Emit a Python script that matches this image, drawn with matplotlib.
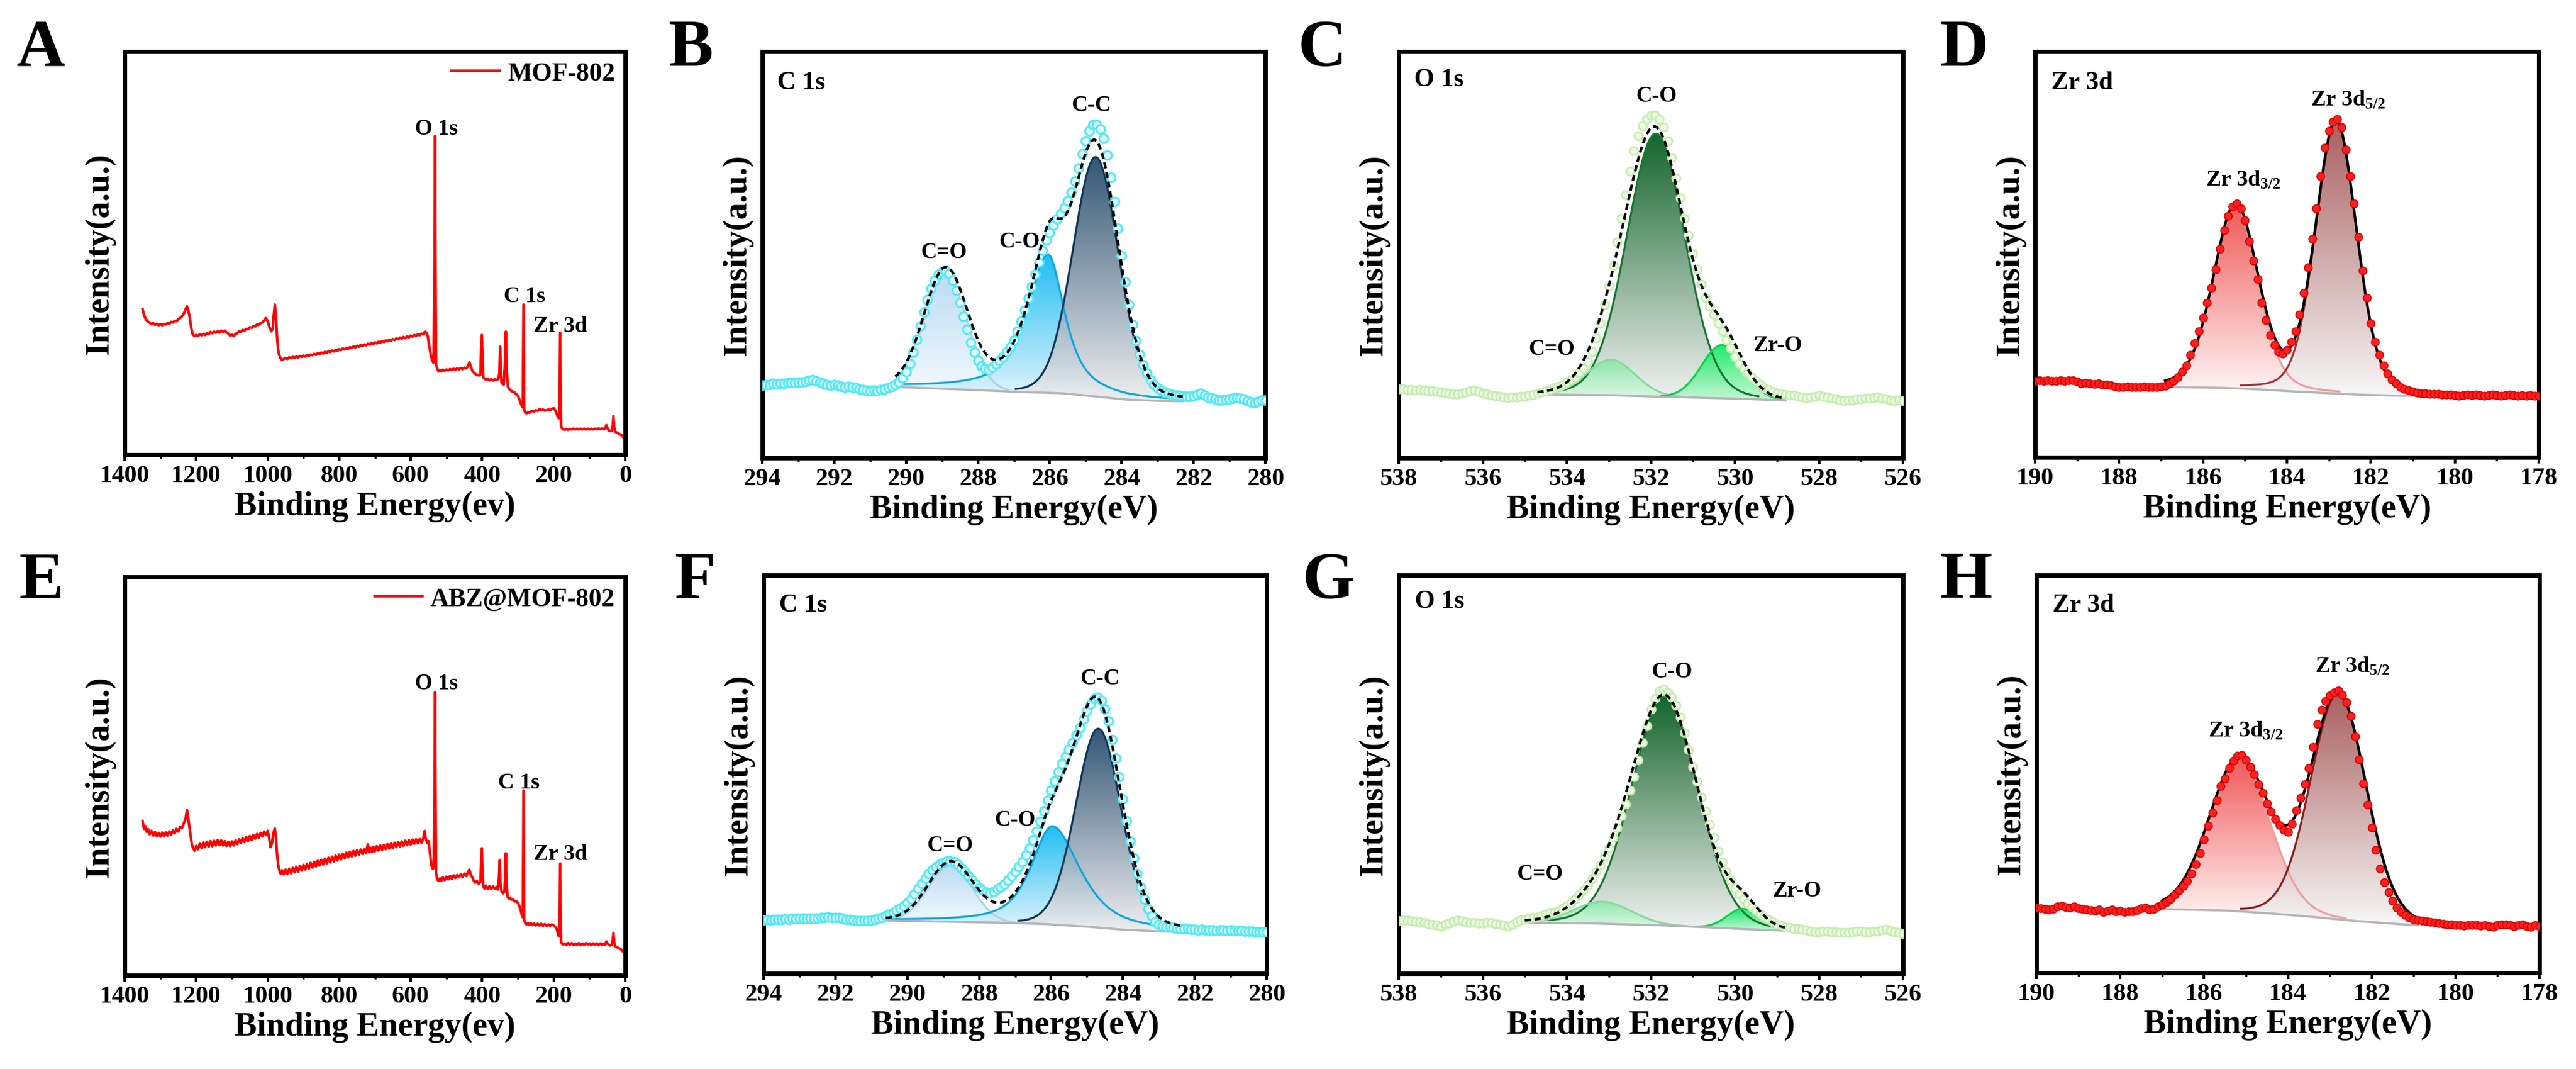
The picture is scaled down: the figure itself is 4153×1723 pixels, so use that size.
import numpy as np
import matplotlib
matplotlib.use('Agg')
import matplotlib.pyplot as plt
from matplotlib.patches import Polygon
from matplotlib.colors import LinearSegmentedColormap
from matplotlib.ticker import MultipleLocator

plt.rcParams['font.family'] = ['Liberation Serif', 'DejaVu Serif']
plt.rcParams['font.weight'] = 'bold'
plt.rcParams['axes.labelweight'] = 'bold'
plt.rcParams['mathtext.fontset'] = 'custom'
plt.rcParams['mathtext.rm'] = 'Liberation Serif:bold'
plt.rcParams['mathtext.it'] = 'Liberation Serif:bold'
plt.rcParams['mathtext.bf'] = 'Liberation Serif:bold'
plt.rcParams['mathtext.default'] = 'bf'

# ---------------------------------------------------------------- survey data
mof_survey = [
    (1350, 42.0), (1346, 40.2), (1342, 39.2), (1338, 38.6), (1334, 38.2), (1330, 37.9), (1325, 37.5),
    (1320, 37.8), (1315, 37.3), (1310, 37.6), (1305, 37.2), (1300, 37.5), (1295, 37.2), (1290, 37.6),
    (1285, 37.4), (1280, 37.8), (1275, 37.6), (1270, 38.2), (1265, 38.0), (1260, 38.5), (1255, 38.4),
    (1250, 39.0), (1245, 39.3), (1240, 39.8), (1235, 40.5), (1230, 41.8), (1226, 42.8), (1222, 41.5),
    (1218, 39.5), (1214, 36.5), (1210, 34.5), (1205, 34.0), (1200, 34.3), (1195, 34.0), (1190, 34.5),
    (1185, 34.2), (1180, 34.6), (1175, 34.3), (1170, 34.8), (1165, 34.5), (1160, 35.2), (1155, 34.8),
    (1150, 35.3), (1145, 35.0), (1140, 35.4), (1135, 35.0), (1130, 35.6), (1125, 35.2), (1120, 35.6),
    (1115, 35.1), (1110, 34.7), (1105, 34.1), (1100, 34.4), (1095, 34.0), (1090, 34.6), (1085, 34.8),
    (1080, 35.4), (1075, 35.2), (1070, 35.8), (1065, 35.6), (1060, 36.1), (1055, 36.0), (1050, 36.6),
    (1045, 36.4), (1040, 37.0), (1035, 36.8), (1030, 37.4), (1025, 37.3), (1020, 37.8), (1015, 38.0),
    (1010, 38.6), (1005, 39.3), (1000, 38.4), (995, 36.6), (990, 35.4), (986, 36.2), (983, 40.2),
    (980, 43.3), (977, 40.0), (974, 34.0), (971, 30.0), (968, 28.4), (964, 27.4), (960, 26.9),
    (955, 27.2), (950, 27.5), (945, 27.2), (940, 27.7), (935, 27.4), (930, 27.8), (925, 27.5),
    (920, 27.9), (915, 27.6), (910, 28.1), (905, 27.8), (900, 28.2), (895, 27.9), (890, 28.4),
    (885, 28.1), (880, 28.5), (875, 28.3), (870, 28.7), (865, 28.4), (860, 28.9), (855, 28.6),
    (850, 29.1), (845, 28.8), (840, 29.3), (835, 29.0), (830, 29.5), (825, 29.2), (820, 29.7),
    (815, 29.4), (810, 29.9), (805, 29.6), (800, 30.1), (795, 29.8), (790, 30.3), (785, 30.0),
    (780, 30.5), (775, 30.2), (770, 30.7), (765, 30.4), (760, 30.9), (755, 30.6), (750, 31.1),
    (745, 30.8), (740, 31.3), (735, 31.0), (730, 31.5), (725, 31.2), (720, 31.7), (715, 31.4),
    (710, 31.9), (705, 31.6), (700, 32.1), (695, 31.8), (690, 32.3), (685, 32.0), (680, 32.5),
    (675, 32.2), (670, 32.7), (665, 32.4), (660, 32.9), (655, 32.6), (650, 33.1), (645, 32.8),
    (640, 33.3), (635, 33.0), (630, 33.5), (625, 33.2), (620, 33.7), (615, 33.4), (610, 33.9),
    (605, 33.6), (600, 34.1), (595, 33.8), (590, 34.3), (585, 34.0), (580, 34.5), (575, 34.2),
    (570, 34.7), (565, 34.5), (560, 35.3), (556, 35.0), (552, 33.8), (548, 31.0), (544, 28.5),
    (540, 26.8), (536, 26.0), (533.5, 55.0), (532, 93.3), (530.5, 55.0), (529, 25.5), (526, 24.5),
    (522, 23.5), (518, 23.8), (514, 23.5), (510, 24.0), (505, 23.7), (500, 24.1), (495, 23.8),
    (490, 24.2), (485, 23.9), (480, 24.3), (475, 24.0), (470, 24.4), (465, 24.1), (460, 24.5),
    (455, 24.2), (450, 24.6), (445, 24.4), (440, 25.0), (436, 26.2), (432, 25.0), (428, 23.8),
    (424, 23.2), (420, 22.8), (415, 22.5), (410, 22.3), (405, 22.5), (403, 30.0), (401, 34.3),
    (399, 28.0), (397, 21.8), (394, 21.4), (390, 21.1), (385, 21.3), (380, 20.9), (375, 21.2),
    (370, 20.8), (365, 21.2), (360, 21.0), (355, 21.2), (352, 23.0), (350, 30.8), (348, 24.0),
    (346, 20.2), (343, 19.8), (340, 19.6), (337, 25.0), (334, 35.3), (331, 23.0), (328, 18.8),
    (324, 18.2), (320, 17.8), (315, 17.5), (310, 17.3), (305, 16.8), (300, 16.3), (296, 15.2),
    (292, 14.0), (289, 13.2), (286.5, 12.8), (285.5, 30.0), (284.5, 43.3), (283.5, 28.0),
    (282.5, 12.3), (280, 11.3), (276, 11.1), (272, 11.4), (268, 11.2), (264, 11.6), (260, 11.8),
    (255, 11.6), (250, 12.0), (245, 11.8), (240, 12.3), (235, 12.0), (230, 12.2), (225, 11.9),
    (220, 12.0), (215, 12.2), (210, 12.0), (205, 12.4), (200, 12.6), (196, 12.0), (192, 11.0),
    (189, 10.2), (186, 9.6), (184, 12.0), (183, 25.0), (182, 35.0), (181, 20.0), (179.5, 7.5),
    (178, 6.8), (175, 6.4), (170, 6.2), (165, 6.4), (160, 6.2), (155, 6.4), (150, 6.3), (145, 6.5),
    (140, 6.3), (135, 6.5), (130, 6.3), (125, 6.5), (120, 6.3), (115, 6.5), (110, 6.3), (105, 6.5),
    (100, 6.3), (95, 6.5), (90, 6.3), (85, 6.5), (80, 6.4), (75, 6.6), (70, 6.4), (65, 6.6),
    (60, 6.4), (56, 6.6), (53, 7.6), (50, 6.8), (46, 6.0), (42, 5.8), (38, 5.9), (35, 7.6),
    (33, 10.3), (31, 7.2), (29, 5.8), (26, 5.5), (22, 5.3), (18, 5.1), (14, 4.8), (10, 4.6),
    (6, 4.0), (3, 3.8), (1, 3.6),
]

abz_survey = [
    (1350, 45.5), (1346, 43.2), (1342, 44.0), (1338, 42.3), (1334, 43.1), (1330, 41.6), (1325, 42.6),
    (1320, 41.2), (1315, 42.3), (1310, 41.0), (1305, 42.0), (1300, 40.9), (1295, 42.1), (1290, 41.0),
    (1285, 42.2), (1280, 41.2), (1275, 42.5), (1270, 41.5), (1265, 42.8), (1260, 41.9), (1255, 43.2),
    (1250, 42.4), (1245, 43.8), (1240, 43.4), (1235, 44.8), (1230, 46.0), (1226, 48.8), (1223, 47.0),
    (1220, 44.5), (1216, 41.5), (1212, 38.5), (1208, 37.4), (1204, 36.8), (1200, 38.2), (1195, 37.2),
    (1190, 38.8), (1185, 37.6), (1180, 39.2), (1175, 37.8), (1170, 39.4), (1165, 38.0), (1160, 39.6),
    (1155, 38.1), (1150, 39.7), (1145, 38.3), (1140, 39.9), (1135, 38.4), (1130, 39.8), (1125, 38.3),
    (1120, 39.6), (1115, 38.2), (1110, 39.4), (1105, 38.1), (1100, 39.5), (1095, 38.3), (1090, 39.8),
    (1085, 38.7), (1080, 40.1), (1075, 39.0), (1070, 40.5), (1065, 39.3), (1060, 40.8), (1055, 39.6),
    (1050, 41.1), (1045, 39.9), (1040, 41.4), (1035, 40.3), (1030, 41.7), (1025, 40.6), (1020, 42.0),
    (1015, 41.0), (1010, 42.4), (1005, 41.4), (1000, 42.6), (996, 40.5), (992, 37.8), (988, 39.0),
    (984, 42.0), (980, 43.3), (977, 40.5), (974, 36.0), (971, 32.8), (968, 31.2), (964, 30.0),
    (960, 31.0), (955, 29.8), (950, 31.2), (945, 29.9), (940, 31.4), (935, 30.1), (930, 31.7),
    (925, 30.4), (920, 32.0), (915, 30.6), (910, 32.3), (905, 30.9), (900, 32.6), (895, 31.2),
    (890, 32.9), (885, 31.5), (880, 33.2), (875, 31.8), (870, 33.5), (865, 32.1), (860, 33.8),
    (855, 32.4), (850, 34.1), (845, 32.7), (840, 34.4), (835, 33.0), (830, 34.7), (825, 33.3),
    (820, 35.0), (815, 33.6), (810, 35.3), (805, 33.9), (800, 35.6), (795, 34.2), (790, 35.9),
    (785, 34.5), (780, 36.2), (775, 34.8), (770, 36.5), (765, 35.1), (760, 36.7), (755, 35.3),
    (750, 36.9), (745, 35.6), (740, 37.1), (735, 35.8), (730, 37.3), (725, 36.0), (720, 38.6),
    (716, 36.3), (712, 37.6), (708, 36.4), (704, 37.9), (700, 36.6), (695, 38.1), (690, 36.8),
    (685, 38.3), (680, 37.0), (675, 38.5), (670, 37.2), (665, 38.7), (660, 37.4), (655, 38.9),
    (650, 37.6), (645, 39.1), (640, 37.8), (635, 39.3), (630, 38.0), (625, 39.5), (620, 38.2),
    (615, 39.7), (610, 38.4), (605, 39.9), (600, 38.6), (595, 40.0), (590, 38.8), (585, 40.1),
    (580, 38.9), (575, 40.2), (570, 39.1), (565, 40.3), (561, 42.6), (558, 40.4), (554, 39.0),
    (550, 39.6), (546, 36.0), (542, 32.4), (538, 31.4), (535.5, 31.8), (533.5, 55.0), (532, 83.5),
    (530.5, 55.0), (529, 30.2), (526, 28.4), (522, 27.8), (518, 28.6), (514, 27.9), (510, 28.9),
    (505, 28.1), (500, 29.1), (495, 28.3), (490, 29.3), (485, 28.5), (480, 29.5), (475, 28.7),
    (470, 29.6), (465, 28.9), (460, 29.8), (455, 29.0), (450, 30.0), (445, 29.3), (440, 30.4),
    (436, 31.2), (432, 29.6), (428, 29.0), (424, 28.0), (420, 27.3), (415, 27.9), (410, 27.0),
    (405, 27.6), (403, 33.0), (401, 37.5), (399, 30.0), (397, 26.4), (394, 25.6), (390, 26.5),
    (385, 25.5), (380, 26.3), (375, 25.4), (370, 26.3), (365, 25.5), (360, 26.1), (356, 25.3),
    (353, 29.0), (351, 34.0), (349, 27.0), (346, 24.8), (342, 24.2), (338, 24.6), (336, 29.0),
    (334, 36.0), (332, 27.0), (329, 23.2), (326, 22.6), (322, 22.9), (318, 22.3), (314, 22.5),
    (310, 21.8), (305, 21.9), (300, 21.4), (296, 20.4), (292, 19.0), (289, 17.8), (286.5, 17.1),
    (285.5, 35.0), (284.5, 54.5), (283.5, 33.0), (282.5, 16.4), (280, 15.5), (276, 15.0),
    (272, 15.4), (268, 14.9), (264, 15.4), (260, 14.8), (255, 15.3), (250, 14.7), (245, 15.2),
    (240, 14.7), (235, 15.2), (230, 14.6), (225, 15.1), (220, 14.6), (215, 15.0), (210, 14.6),
    (205, 15.0), (200, 14.7), (196, 14.3), (192, 13.8), (189, 12.6), (186, 11.5), (184, 13.0),
    (183, 24.0), (182, 33.0), (181, 18.0), (179.5, 10.0), (178, 9.5), (175, 9.1), (170, 9.4),
    (165, 8.9), (160, 9.5), (155, 9.0), (150, 9.5), (145, 8.9), (140, 9.4), (135, 9.0), (130, 9.5),
    (125, 8.9), (120, 9.4), (115, 9.0), (110, 9.5), (105, 9.1), (100, 9.4), (95, 8.9), (90, 9.4),
    (85, 9.0), (80, 9.4), (75, 8.9), (70, 9.4), (65, 9.0), (60, 9.3), (56, 9.0), (53, 10.0),
    (50, 9.4), (46, 9.1), (42, 8.8), (38, 9.0), (35, 10.6), (33, 12.5), (31, 10.0), (29, 8.6),
    (26, 8.5), (22, 8.2), (18, 8.0), (14, 7.8), (10, 7.5), (6, 7.0), (3, 6.8), (1, 6.7),
]

# ---------------------------------------------------------------- high resolution spectra (0.1 eV steps)
c1s_mof_E = np.round(np.arange(294.0, 279.95, -0.1), 1)
c1s_mof_I = [
    21.5, 21.8, 21.7, 22.0, 21.9, 22.1, 22.0, 22.2, 22.3, 22.2,
    22.4, 22.5, 22.7, 23.0, 23.2, 22.8, 22.4, 22.0, 21.8, 21.5,
    21.8, 21.6, 21.2, 21.0, 21.2, 21.0, 20.7, 20.5, 20.2, 20.0,
    19.8, 20.0, 19.9, 20.2, 20.4, 20.8, 21.2, 21.8, 22.5, 23.8,
    25.5, 28.0, 31.2, 35.2, 39.2, 43.2, 47.0, 50.2, 52.7, 54.4,
    55.2, 55.5, 54.6, 52.7, 49.7, 46.0, 42.0, 38.0, 34.2, 31.2,
    28.8, 27.2, 26.4, 26.2, 26.8, 27.8, 28.8, 30.0, 31.4, 33.0,
    35.0, 37.5, 40.5, 43.8, 47.2, 50.8, 54.5, 58.0, 61.5, 64.5,
    66.8, 69.0, 70.8, 72.4, 74.2, 76.2, 78.8, 82.0, 86.0, 90.2,
    94.0, 97.0, 98.7, 98.8, 97.5, 94.8, 89.8, 83.2, 76.0, 68.0,
    60.0, 52.2, 45.5, 39.5, 34.8, 30.8, 27.6, 25.2, 23.2, 21.7,
    20.7, 20.0, 19.4, 19.1, 18.8, 18.6, 18.5, 18.4, 18.3, 18.2,
    18.4, 18.8, 19.2, 18.5, 18.0, 17.8, 17.5, 17.2, 17.1, 17.3,
    17.5, 17.7, 17.8, 17.6, 17.4, 17.0, 16.5, 16.4, 16.8, 17.1,
    17.2]

c1s_abz_E = np.round(np.arange(294.0, 279.95, -0.1), 1)
c1s_abz_I = [
    15.8, 15.9, 15.8, 16.0, 15.9, 16.0, 16.1, 16.0, 16.2, 16.1,
    16.2, 16.3, 16.2, 16.3, 16.2, 16.2, 16.4, 16.5, 16.6, 16.5,
    16.5, 16.4, 16.2, 16.0, 15.9, 15.8, 15.6, 15.5, 15.5, 15.6,
    15.8, 16.0, 16.2, 16.5, 17.0, 17.5, 18.0, 18.6, 19.2, 20.0,
    20.8, 22.0, 23.5, 25.0, 26.5, 28.0, 29.5, 30.5, 31.5, 32.2,
    32.8, 33.2, 33.2, 32.9, 32.2, 31.2, 30.0, 28.8, 27.5, 26.3,
    25.2, 24.5, 24.0, 23.8, 24.2, 24.8, 25.5, 26.4, 27.5, 28.7,
    30.0, 31.4, 33.0, 34.9, 37.0, 39.4, 42.0, 44.9, 48.0, 51.0,
    54.0, 56.8, 59.5, 61.8, 64.0, 66.0, 68.0, 70.2, 72.5, 75.0,
    77.5, 79.5, 81.0, 81.5, 80.5, 78.0, 74.5, 69.0, 63.5, 58.0,
    51.5, 45.0, 39.0, 34.0, 29.5, 25.5, 22.0, 19.0, 17.0, 15.2,
    14.5, 14.1, 13.8, 13.7, 13.5, 13.4, 13.2, 13.2, 13.1, 13.0,
    13.0, 12.9, 13.0, 12.9, 12.8, 12.8, 12.7, 12.8, 12.8, 12.7,
    12.8, 12.7, 12.6, 12.6, 12.5, 12.5, 12.4, 12.3, 12.3, 12.2,
    12.2]

o1s_mof_E = np.round(np.arange(538.0, 525.95, -0.1), 1)
o1s_mof_I = [
    20.5, 20.4, 20.2, 20.3, 20.1, 20.2, 20.0, 19.8, 19.9, 19.6,
    19.5, 19.4, 19.2, 19.0, 19.0, 19.2, 19.5, 19.8, 20.0, 19.6,
    19.2, 18.9, 18.6, 18.4, 18.2, 18.0, 17.9, 18.0, 18.1, 18.2,
    18.3, 18.5, 18.8, 19.2, 19.5, 19.8, 20.2, 20.7, 21.2, 21.8,
    22.5, 23.2, 24.0, 25.2, 26.5, 28.5, 31.5, 35.5, 40.0, 45.5,
    51.0, 57.0, 64.0, 71.0, 78.0, 85.0, 91.0, 95.5, 98.5, 100.5,
    101.5, 101.5, 100.5, 98.0, 94.0, 89.0, 83.0, 77.0, 71.0, 66.0,
    60.5, 56.0, 51.5, 47.5, 45.0, 42.5, 40.0, 37.5, 35.0, 32.5,
    30.0, 28.0, 26.5, 25.2, 24.0, 22.8, 21.8, 20.8, 20.2, 19.6,
    19.2, 19.0, 18.8, 18.6, 18.5, 18.2, 18.0, 17.9, 18.0, 18.3,
    18.5, 18.3, 18.0, 17.7, 17.5, 17.2, 17.0, 17.1, 17.2, 17.4,
    17.5, 17.6, 17.7, 17.9, 18.0, 17.7, 17.5, 17.2, 17.0, 17.1,
    17.0]

o1s_abz_E = np.round(np.arange(538.0, 525.95, -0.1), 1)
o1s_abz_I = [
    15.5, 15.7, 15.8, 15.5, 15.3, 15.2, 15.0, 14.7, 14.5, 14.2,
    14.0, 14.4, 14.8, 15.4, 15.8, 15.5, 15.2, 15.0, 15.0, 14.8,
    14.8, 15.0, 15.0, 14.7, 14.5, 14.2, 14.0, 14.5, 15.2, 15.7,
    16.0, 16.2, 16.5, 16.7, 17.0, 17.5, 18.0, 18.2, 18.5, 19.2,
    20.0, 20.9, 22.0, 23.2, 24.5, 26.2, 28.0, 30.0, 32.0, 34.5,
    37.0, 40.0, 43.0, 46.5, 50.0, 54.0, 58.0, 63.0, 68.0, 73.0,
    78.0, 81.0, 83.2, 83.8, 83.0, 81.5, 79.0, 75.5, 71.0, 66.0,
    61.0, 56.5, 52.0, 48.0, 44.0, 40.0, 36.0, 32.8, 30.0, 27.4,
    25.0, 23.4, 22.0, 20.7, 19.5, 18.5, 17.5, 16.7, 16.0, 15.2,
    14.5, 14.2, 13.8, 13.5, 13.2, 13.1, 13.0, 12.8, 12.5, 12.3,
    12.2, 12.4, 12.5, 12.3, 12.2, 12.0, 12.0, 12.1, 12.2, 12.4,
    12.5, 12.3, 12.2, 12.4, 12.5, 12.8, 13.0, 12.6, 12.2, 12.0,
    11.8]

zr3d_mof_E = np.round(np.arange(190.0, 177.95, -0.1), 1)
zr3d_mof_I = [
    22.6, 22.8, 22.7, 22.8, 22.6, 22.7, 22.8, 22.7, 22.9, 22.8,
    22.5, 21.9, 22.0, 21.8, 21.7, 21.8, 21.6, 21.5, 21.3, 21.0,
    20.8, 20.7, 20.9, 20.8, 20.7, 20.8, 20.9, 20.8, 20.7, 20.8,
    20.9, 21.2, 21.8, 22.6, 23.8, 25.3, 27.3, 30.3, 33.8, 37.3,
    41.3, 45.8, 50.3, 55.8, 61.8, 67.3, 71.6, 74.3, 75.3, 73.8,
    70.3, 64.0, 58.3, 52.8, 45.8, 40.6, 36.3, 33.3, 31.3, 30.8,
    31.8, 34.3, 37.3, 42.3, 48.8, 56.3, 64.8, 73.8, 83.3, 91.8,
    96.8, 99.6, 100.3, 97.8, 91.3, 83.3, 75.3, 65.3, 55.3, 47.3,
    39.8, 34.3, 30.3, 27.3, 24.8, 23.0, 21.8, 20.8, 20.3, 19.8,
    19.5, 19.2, 19.0, 18.9, 18.8, 18.7, 18.8, 18.6, 18.5, 18.6,
    18.4, 18.3, 18.4, 18.5, 18.4, 18.5, 18.4, 18.3, 18.4, 18.5,
    18.4, 18.3, 18.4, 18.5, 18.4, 18.3, 18.4, 18.3, 18.4, 18.3,
    18.3]

zr3d_abz_E = np.round(np.arange(190.0, 177.95, -0.1), 1)
zr3d_abz_I = [
    19.3, 19.0, 18.8, 18.6, 18.8, 19.6, 19.8, 19.4, 19.3, 19.5,
    19.0, 18.8, 18.6, 18.4, 18.3, 18.6, 18.0, 18.3, 18.6, 18.2,
    18.3, 18.0, 18.1, 18.2, 18.4, 19.0, 19.3, 18.6, 18.8, 19.6,
    20.2, 20.8, 21.8, 23.0, 24.3, 25.6, 27.0, 29.3, 32.0, 35.3,
    39.3, 43.3, 47.3, 50.8, 55.0, 57.3, 60.3, 62.6, 64.0, 64.3,
    62.8, 60.8, 58.6, 55.6, 53.0, 50.0, 47.6, 45.3, 43.6, 42.0,
    41.6, 44.0, 48.0, 51.6, 55.6, 60.3, 66.6, 73.3, 77.6, 80.2,
    81.8, 82.8, 83.3, 82.0, 79.8, 75.8, 69.8, 63.0, 55.8, 49.6,
    42.8, 36.3, 30.8, 26.8, 23.8, 21.3, 19.3, 18.0, 17.0, 16.3,
    15.8, 15.6, 15.3, 15.2, 15.0, 14.8, 14.6, 14.4, 14.3, 14.2,
    14.0, 14.1, 13.9, 14.0, 14.1, 14.0, 13.9, 14.0, 13.8, 13.6,
    14.0, 14.3, 14.2, 14.0, 13.8, 14.1, 14.3, 13.8, 13.6, 14.0,
    13.8]

# ---------------------------------------------------------------- fitted components
# (center eV, height, HWHM high-energy side, HWHM low-energy side, Lorentz fraction)
c1s_mof_peaks = [(288.9, 34.0, 0.70, 0.70, 0.0), (286.05, 41.0, 0.70, 0.55, 0.8), (284.72, 71.0, 0.75, 0.75, 0.1)]
c1s_abz_peaks = [(288.8, 16.5, 0.72, 0.72, 0.0), (285.96, 29.0, 0.70, 0.90, 0.7), (284.68, 58.7, 0.75, 0.75, 0.1)]
o1s_mof_peaks = [(531.88, 78.0, 0.82, 0.82, 0.1), (532.95, 10.5, 0.68, 0.68, 0.0), (530.3, 15.8, 0.58, 0.58, 0.0)]
o1s_abz_peaks = [(531.67, 67.5, 0.93, 0.93, 0.1), (533.15, 6.5, 0.80, 0.80, 0.0), (529.8, 6.0, 0.45, 0.45, 0.0)]
zr3d_mof_peaks = [(185.22, 54.0, 0.625, 0.625, 0.2), (182.83, 80.5, 0.575, 0.575, 0.2)]
zr3d_abz_peaks = [(185.15, 45.0, 0.85, 0.85, 0.1), (182.8, 66.5, 0.78, 0.78, 0.1)]

# background nodes (eV, intensity) spanning the fit windows
c1s_mof_bg = [(290.3, 21.0), (288.5, 20.3), (286.8, 19.5), (285.7, 19.2), (284.8, 18.3), (283.9, 17.3), (283.0, 16.9), (282.3, 16.8)]
c1s_abz_bg = [(290.6, 15.6), (289.0, 15.3), (287.5, 15.0), (286.2, 14.6), (285.0, 13.8), (284.0, 12.9), (283.0, 12.4), (282.3, 12.2)]
o1s_mof_bg = [(534.7, 18.8), (533.0, 18.6), (532.0, 18.2), (531.0, 17.9), (530.0, 17.6), (528.8, 17.0)]
o1s_abz_bg = [(535.0, 15.0), (533.5, 14.8), (532.0, 14.3), (531.0, 13.8), (530.0, 13.2), (528.8, 12.6)]
zr3d_mof_bg = [(186.9, 20.8), (185.6, 20.6), (184.8, 20.2), (184.0, 19.6), (183.2, 19.1), (182.4, 18.6), (181.6, 18.3), (180.8, 18.2)]
zr3d_abz_bg = [(187.0, 18.8), (185.5, 18.4), (184.5, 17.6), (183.5, 16.6), (182.5, 15.4), (181.5, 14.5), (180.9, 14.0)]

# labels
c1s_labels = ['C=O', 'C-O', 'C-C']
o1s_labels = ['C-O', 'C=O', 'Zr-O']
zr_labels = ['Zr 3d$_{3/2}$', 'Zr 3d$_{5/2}$']
c1s_mof_label_pos = [(288.95, 59.5), (286.84, 62.5), (284.85, 103.0)]
c1s_abz_label_pos = [(288.81, 36.3), (287.0, 43.8), (284.64, 85.5)]
o1s_mof_label_pos = [(531.87, 105.8), (534.36, 30.8), (528.99, 31.8)]
o1s_abz_label_pos = [(531.5, 87.5), (534.64, 27.8), (528.52, 22.8)]
zr3d_mof_label_pos = [(185.04, 80.6), (182.55, 104.3)]
zr3d_abz_label_pos = [(185.01, 69.8), (182.47, 88.8)]
survey_labels = ['O 1s', 'C 1s', 'Zr 3d']
mof_survey_label_pos = [(528, 93.8), (282.2, 44.3), (180.6, 35.3)]
abz_survey_label_pos = [(527.2, 84.5), (297.3, 55.3), (180.6, 34.3)]

# ---------------------------------------------------------------- figure
W, H = 4153, 1724
fig = plt.figure(figsize=(W / 100, H / 100), dpi=100)


def add_axes(l, r, t, b):
    ax = fig.add_axes([l / W, 1 - b / H, (r - l) / W, (b - t) / H])
    return ax, (r - l), (b - t)


def style(ax, xlim, ylim, major, minor, xlabel):
    ax.set_xlim(*xlim)
    ax.set_ylim(*ylim)
    ax.xaxis.set_major_locator(MultipleLocator(major))
    ax.xaxis.set_minor_locator(MultipleLocator(minor))
    ax.tick_params(axis='x', which='major', direction='out', length=7, width=3,
                   labelsize=29, pad=4, top=False)
    ax.tick_params(axis='x', which='minor', direction='out', length=4, width=2.5, top=False)
    ax.set_yticks([])
    ax.tick_params(axis='y', which='both', left=False, right=False, labelleft=False)
    for s in ax.spines.values():
        s.set_linewidth(5)
    ax.set_xlabel(xlabel, fontsize=39, labelpad=4)
    ax.set_ylabel('Intensity(a.u.)', fontsize=39, labelpad=11)


def profile(E, c, h, whi, wlo, eta):
    w = np.where(E >= c, whi, wlo)
    u = ((E - c) / w) ** 2
    return h * ((1 - eta) * np.exp(-np.log(2) * u) + eta / (1 + u))


def grad_fill(ax, x, ylo, yhi, top, bottom, z, alpha):
    verts = np.column_stack([np.r_[x, x[::-1]], np.r_[yhi, ylo[::-1]]])
    poly = Polygon(verts, closed=True, facecolor='none', edgecolor='none', transform=ax.transData)
    ax.add_patch(poly)
    cmap = LinearSegmentedColormap.from_list('g', [bottom, top])
    grad = np.linspace(0, 1, 256).reshape(-1, 1)
    im = ax.imshow(grad, cmap=cmap, aspect='auto', origin='lower', interpolation='bicubic',
                   extent=[x.min(), x.max(), ylo.min(), yhi.max()], zorder=z, alpha=alpha)
    im.set_clip_path(poly)


def draw_fit(ax, E, I, peaks, bg, comp_styles, mstyle, dashed):
    bg = np.array(bg)
    Eg = np.linspace(bg[0, 0], bg[-1, 0], 700)
    base = np.interp(Eg, bg[::-1, 0], bg[::-1, 1])
    total = base.copy()
    for k, (p, st) in enumerate(zip(peaks, comp_styles)):
        y = profile(Eg, *p)
        m = y > 0.012 * p[1]
        grad_fill(ax, Eg[m], base[m], base[m] + y[m], st[0], st[1], 1 + k * 0.2, 1.0 if k == 0 else 0.88)
        ax.plot(Eg[m], base[m] + y[m], color=st[2], lw=2.3, zorder=2)
        total += y
    ax.plot(Eg, base, color='#b4b4b4', lw=2.5, zorder=2.2)
    ax.plot(E, I, ls='none', marker='o', ms=mstyle[0], mfc=mstyle[1], mec=mstyle[2],
            mew=mstyle[3], zorder=3)
    if dashed:
        ax.plot(Eg, total, color='black', lw=3, ls=(0, (2.4, 1.4)), zorder=4)
    else:
        ax.plot(Eg, total, color='black', lw=3, zorder=2.5)


c1s_styles = [('#bcdcf3', '#f3f9fe', '#b3d2e6'), ('#00b5f1', '#e4f5fd', '#0aa6e2'), ('#173f62', '#eeeeee', '#0d3656')]
o1s_styles = [('#15652c', '#f2f2f2', '#17762f'), ('#86e8a6', '#d6f7df', '#8ad9a2'), ('#00e85a', '#c2f7d2', '#10d050')]
zr_styles_mof = [('#f05a5a', '#fff6f6', '#f29c9c'), ('#9e4a4a', '#f6f6f6', '#a33636')]
zr_styles_abz = [('#f05a5a', '#fff6f6', '#f29c9c'), ('#9e4a4a', '#f6f6f6', '#8a1f1f')]
cyan_m = (10, '#e4fcff', '#52eaf8', 2.2)
green_m = (9.5, '#eefbe6', '#c6edb0', 2.0)
red_m = (9.0, '#ff1f1f', '#d40000', 1.2)

# ---- survey panels
for (l, r, t, b), data, lab, lpos, ylim in [
        ((201, 1008, 84, 734), mof_survey, 'MOF-802', mof_survey_label_pos, (-1.2, 118.3)),
        ((201, 1008, 931, 1573), abz_survey, 'ABZ@MOF-802', abz_survey_label_pos, (0, 117.5))]:
    ax, wp, hp = add_axes(l, r, t, b)
    arr = np.array(data)
    ax.plot(arr[:, 0], arr[:, 1], color='#ff0000', lw=3, label=lab)
    for txt, (x, y) in zip(survey_labels, lpos):
        ax.text(x, y, txt, ha='center', va='baseline', fontsize=26)
    ax.legend(loc='upper right', frameon=False, fontsize=30, handlelength=1.85,
              handletextpad=0.3, borderaxespad=0.2, borderpad=0.2)
    style(ax, (1400, 0), ylim, 200, 100, 'Binding Energy(ev)')

# ---- high-resolution panels
hr = [
    ((1229, 2040, 84, 739), c1s_mof_E, c1s_mof_I, c1s_mof_peaks, c1s_mof_bg, c1s_styles, cyan_m, True,
     c1s_labels, c1s_mof_label_pos, 'C 1s', (24, 60), (294, 280), (0, 120.5)),
    ((2255, 3068, 84, 739), o1s_mof_E, o1s_mof_I, o1s_mof_peaks, o1s_mof_bg, o1s_styles, green_m, True,
     o1s_labels, o1s_mof_label_pos, 'O 1s', (25, 55), (538, 526), (0, 120.5)),
    ((3281, 4093, 84, 738), zr3d_mof_E, zr3d_mof_I, zr3d_mof_peaks, zr3d_mof_bg, zr_styles_mof, red_m, False,
     zr_labels, zr3d_mof_label_pos, 'Zr 3d', (26, 60), (190, 178), (0, 120.3)),
    ((1231, 2042, 928, 1570), c1s_abz_E, c1s_abz_I, c1s_abz_peaks, c1s_abz_bg, c1s_styles, cyan_m, True,
     c1s_labels, c1s_abz_label_pos, 'C 1s', (25, 58), (294, 280), (0, 117.5)),
    ((2255, 3068, 928, 1570), o1s_abz_E, o1s_abz_I, o1s_abz_peaks, o1s_abz_bg, o1s_styles, green_m, True,
     o1s_labels, o1s_abz_label_pos, 'O 1s', (26, 52), (538, 526), (0, 117.5)),
    ((3283, 4094, 928, 1569), zr3d_abz_E, zr3d_abz_I, zr3d_abz_peaks, zr3d_abz_bg, zr_styles_abz, red_m, False,
     zr_labels, zr3d_abz_label_pos, 'Zr 3d', (26, 58), (190, 178), (0, 117.3)),
]

for (box, E, I, peaks, bg, sts, ms, dashed, labs, lpos, title, toff, xlim, ylim) in hr:
    assert len(E) == len(I)
    ax, wp, hp = add_axes(*box)
    draw_fit(ax, E, I, peaks, bg, sts, ms, dashed)
    for txt, (x, y) in zip(labs, lpos):
        ax.text(x, y, txt, ha='center', va='baseline', fontsize=26, zorder=6)
    ax.text(toff[0] / wp, 1 - toff[1] / hp, title, transform=ax.transAxes,
            ha='left', va='baseline', fontsize=30, zorder=6)
    style(ax, xlim, ylim, 2, 1, 'Binding Energy(eV)')

# ---- panel letters
for letter, (x, y) in zip('ABCDEFGH', [(27, 106), (1077, 106), (2093, 106), (3127, 106),
                                       (30, 964), (1087, 964), (2100, 964), (3127, 964)]):
    fig.text(x / W, 1 - y / H, letter, ha='left', va='baseline', fontsize=78, fontweight='bold')

fig.savefig('out.png', dpi=100, facecolor='white')
